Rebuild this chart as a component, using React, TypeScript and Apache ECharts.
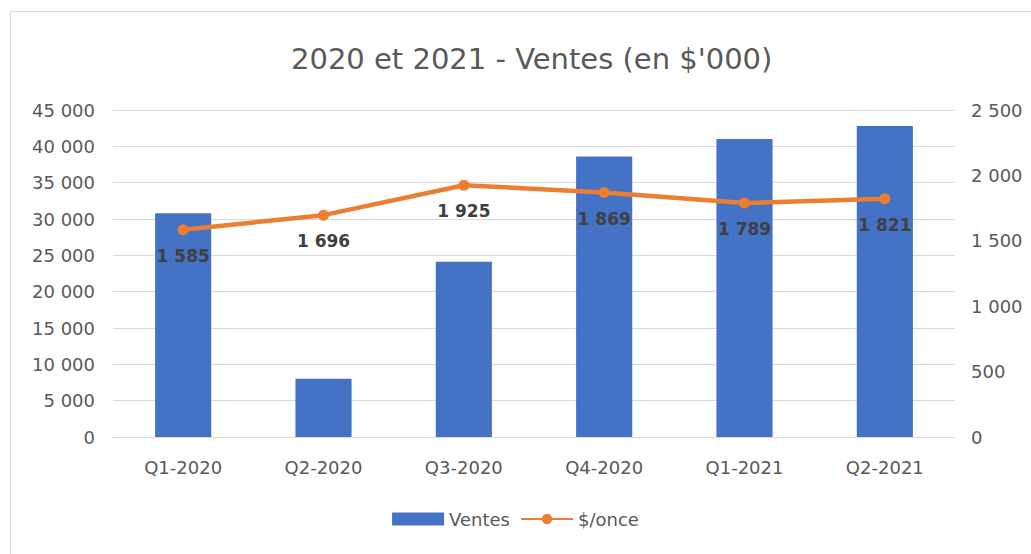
import React, { useEffect, useRef } from "react";
import * as echarts from "echarts";

const categories = ["Q1-2020", "Q2-2020", "Q3-2020", "Q4-2020", "Q1-2021", "Q2-2021"];
const ventes = [30800, 8000, 24100, 38600, 41000, 42800];
const prixOnce = [1585, 1696, 1925, 1869, 1789, 1821];

const fmt = (v: number) => {
  const s = String(Math.round(v));
  return s.replace(/\B(?=(\d{3})+(?!\d))/g, " ");
};

const FONT = "'DejaVu Sans', 'Open Sans', sans-serif";

export default function App() {
  const ref = useRef<HTMLDivElement>(null);
  useEffect(() => {
    document.body.style.margin = "0";
    const chart = echarts.init(ref.current!, null, { renderer: "svg" });
    chart.setOption({
      animation: false,
      backgroundColor: "#ffffff",
      textStyle: { fontFamily: FONT },
      title: {
        text: "2020 et 2021 - Ventes (en $'000)",
        left: 286,
        top: 39,
        textStyle: { fontFamily: FONT, fontSize: 29, fontWeight: "normal", color: "#595959" },
      },
      graphic: [
        {
          type: "rect",
          shape: { x: 10.5, y: 11.5, width: 1030, height: 560 },
          style: { fill: "none", stroke: "#d9d9d9", lineWidth: 1 },
          silent: true,
        },
      ],
      legend: {
        bottom: 21,
        left: "center",
        itemGap: 10,
        itemWidth: 52,
        itemHeight: 13,
        textStyle: { fontFamily: FONT, fontSize: 18, color: "#595959" },
        data: [
          { name: "Ventes", icon: "rect" },
          { name: "$/once" },
        ],
      },
      grid: { left: 113, right: 76, top: 110, bottom: 117, containLabel: false },
      xAxis: {
        type: "category",
        data: categories,
        axisTick: { show: false },
        axisLine: { lineStyle: { color: "#d9d9d9" } },
        axisLabel: { fontFamily: FONT, fontSize: 18, color: "#595959", margin: 21 },
      },
      yAxis: [
        {
          type: "value",
          min: 0,
          max: 45000,
          interval: 5000,
          axisLabel: { fontFamily: FONT, fontSize: 18, color: "#595959", margin: 18, formatter: fmt },
          splitLine: { lineStyle: { color: "#d9d9d9" } },
          axisLine: { show: false },
        },
        {
          type: "value",
          min: 0,
          max: 2500,
          interval: 500,
          axisLabel: { fontFamily: FONT, fontSize: 18, color: "#595959", margin: 16, formatter: fmt },
          splitLine: { show: false },
          axisLine: { show: false },
        },
      ],
      series: [
        {
          name: "Ventes",
          type: "bar",
          data: ventes,
          barWidth: "40%",
          itemStyle: { color: "#4472C4" },
        },
        {
          name: "$/once",
          type: "line",
          yAxisIndex: 1,
          data: prixOnce,
          symbol: "circle",
          symbolSize: 11,
          lineStyle: { color: "#ED7D31", width: 4.5 },
          itemStyle: { color: "#ED7D31" },
          label: {
            show: true,
            position: "bottom",
            distance: 12,
            fontFamily: FONT,
            fontSize: 17,
            fontWeight: "bold",
            color: "#404040",
            formatter: (p: any) => fmt(p.value),
          },
        },
      ],
    });
    return () => chart.dispose();
  }, []);
  return <div ref={ref} style={{ width: 1031, height: 554 }} />;
}
